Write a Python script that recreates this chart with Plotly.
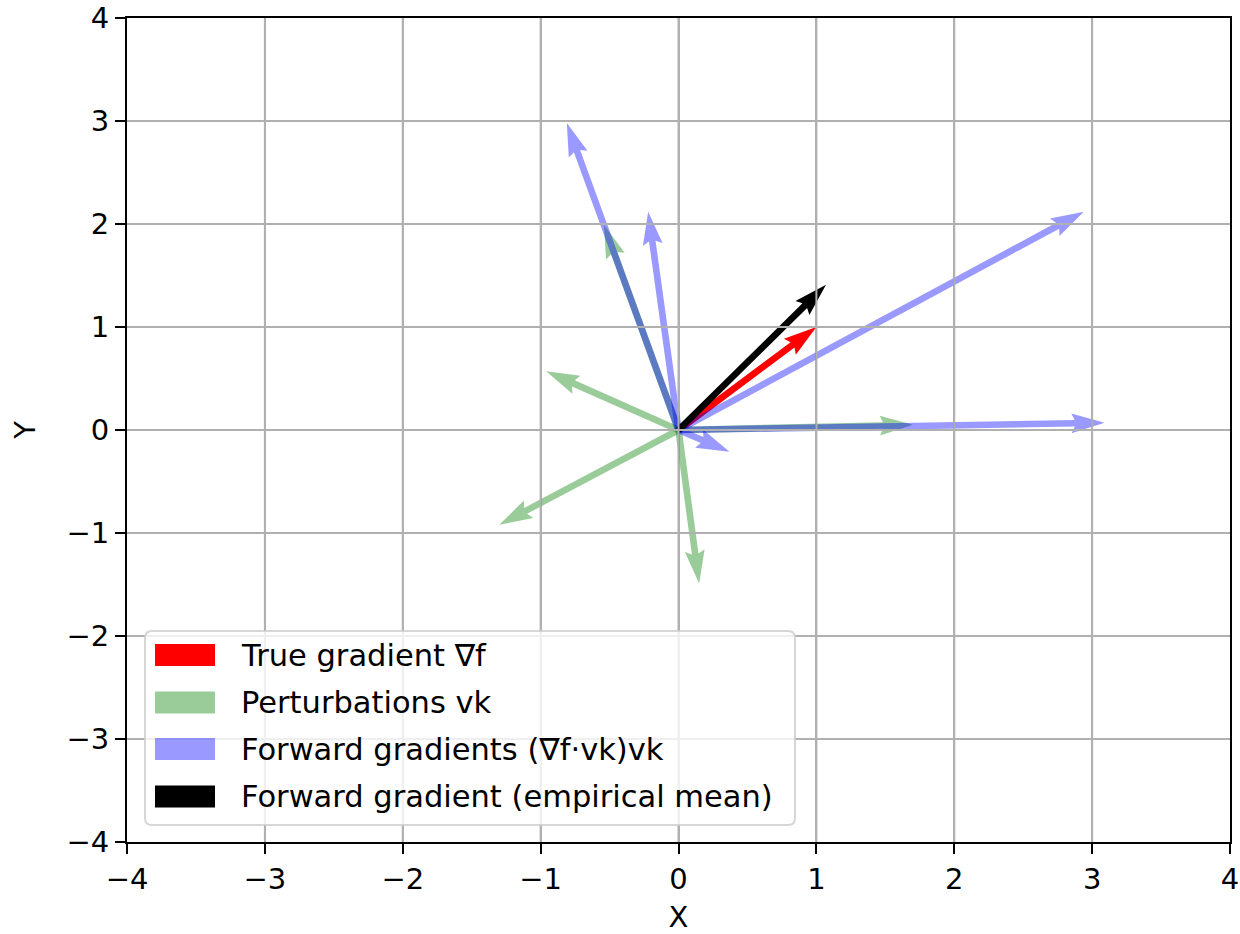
import math
import plotly.graph_objects as go

# ---------------- data ----------------
true_grad_u = [1.0]
true_grad_v = [1.0]

pert_u = [-1.30, -0.96, 0.15, -0.54, 1.70]
pert_v = [-0.92, 0.57, -1.49, 1.99, 0.05]

fwd_u = [2.94, 0.37, -0.22, -0.81, 3.09]
fwd_v = [2.12, -0.21, 2.12, 2.98, 0.07]

mean_u = [1.07]
mean_v = [1.41]

legend_labels = [
    "True gradient ∇f",
    "Perturbations vk",
    "Forward gradients (∇f·vk)vk",
    "Forward gradient (empirical mean)",
]
tick_vals = [-4, -3, -2, -1, 0, 1, 2, 3, 4]
x_label = "X"
y_label = "Y"

# ---------------- styling ----------------
W, H = 1240, 934
ML, MR, MT, MB = 127, 10, 18, 92
PW, PH = W - ML - MR, H - MT - MB
XR = (-4, 4)
YR = (-4, 4)
SX = PW / (XR[1] - XR[0])
SY = PH / (YR[1] - YR[0])
SHAFT = 0.006 * PW  # matplotlib quiver default shaft width (px)
FONT = "DejaVu Sans"

RED = "rgb(255,0,0)"
GREEN = "rgba(0,128,0,0.4)"
BLUE = "rgba(0,0,255,0.4)"
BLACK = "rgb(0,0,0)"


def arrow_poly(u, v):
    """matplotlib-quiver-like arrow polygon, built in pixel space, returned in data units."""
    dx, dy = u * SX, v * SY
    L = math.hypot(dx, dy)
    ex, ey = dx / L, dy / L
    nx, ny = -ey, ex
    w = SHAFT
    hl, hal, hw = 5 * w, 4.5 * w, 3 * w
    if L < hl:
        s = L / hl
        hl, hal, hw, w = hl * s, hal * s, hw * s, w * s
    pts = [(0, w / 2), (L - hal, w / 2), (L - hl, hw / 2), (L, 0),
           (L - hl, -hw / 2), (L - hal, -w / 2), (0, -w / 2), (0, w / 2)]
    xs = [(a * ex + b * nx) / SX for a, b in pts]
    ys = [(a * ey + b * ny) / SY for a, b in pts]
    return xs, ys


fig = go.Figure()


def add_arrows(us, vs, color, name):
    for u, v in zip(us, vs):
        xs, ys = arrow_poly(u, v)
        fig.add_trace(go.Scatter(
            x=xs, y=ys, mode="lines", fill="toself", fillcolor=color,
            line=dict(width=0, color=color), hoverinfo="skip",
            showlegend=False, name=name))


add_arrows(true_grad_u, true_grad_v, RED, legend_labels[0])
add_arrows(pert_u, pert_v, GREEN, legend_labels[1])
add_arrows(fwd_u, fwd_v, BLUE, legend_labels[2])
add_arrows(mean_u, mean_v, BLACK, legend_labels[3])

shapes = []
# grid drawn above the arrows (as matplotlib does for quiver collections)
for t in tick_vals[1:-1]:
    shapes.append(dict(type="line", xref="x", yref="paper", x0=t, x1=t, y0=0, y1=1,
                       line=dict(color="#b0b0b0", width=2), layer="above"))
    shapes.append(dict(type="line", xref="paper", yref="y", x0=0, x1=1, y0=t, y1=t,
                       line=dict(color="#b0b0b0", width=2), layer="above"))


def px2paper(px, py):
    return (px - ML) / PW, (H - MB - py) / PH


# legend frame (rounded)
bx0, by0, bx1, by1, r = 145, 631, 795, 825, 7
def P(px, py):
    x, y = px2paper(px, py)
    return f"{x:.5f},{y:.5f}"
path = (f"M{P(bx0 + r, by0)} L{P(bx1 - r, by0)} Q{P(bx1, by0)} {P(bx1, by0 + r)} "
        f"L{P(bx1, by1 - r)} Q{P(bx1, by1)} {P(bx1 - r, by1)} "
        f"L{P(bx0 + r, by1)} Q{P(bx0, by1)} {P(bx0, by1 - r)} "
        f"L{P(bx0, by0 + r)} Q{P(bx0, by0)} {P(bx0 + r, by0)} Z")
shapes.append(dict(type="path", xref="paper", yref="paper", path=path,
                   fillcolor="rgba(255,255,255,0.8)",
                   line=dict(color="rgba(204,204,204,0.8)", width=2), layer="above"))

annotations = []
legend_colors = [RED, GREEN, BLUE, BLACK]
row_centers = [655, 702.5, 749, 796.5]
for lab, col, cy in zip(legend_labels, legend_colors, row_centers):
    x0, y0 = px2paper(155, cy + 11)
    x1, y1 = px2paper(215, cy - 11)
    shapes.append(dict(type="rect", xref="paper", yref="paper", x0=x0, x1=x1, y0=y0, y1=y1,
                       fillcolor=col, line=dict(width=0), layer="above"))
    tx, ty = px2paper(239, cy)
    annotations.append(dict(xref="paper", yref="paper", x=tx, y=ty, text=lab,
                            showarrow=False, xanchor="left", yanchor="middle",
                            font=dict(family=FONT, size=30.5, color="black")))

axis_common = dict(
    range=list(XR), tickmode="array", tickvals=tick_vals,
    showgrid=True, gridcolor="#b0b0b0", gridwidth=2, zeroline=False,
    showline=True, mirror=True, linecolor="black", linewidth=2,
    ticks="outside", ticklen=10, tickwidth=2, tickcolor="black",
    tickfont=dict(family=FONT, size=29, color="black"),
    fixedrange=True,
)

fig.update_layout(
    width=W, height=H,
    margin=dict(l=ML, r=MR, t=MT, b=MB, autoexpand=False),
    paper_bgcolor="white", plot_bgcolor="white",
    font=dict(family=FONT, size=29, color="black"),
    xaxis=dict(**axis_common, title=dict(text=x_label, standoff=12,
                                         font=dict(family=FONT, size=29))),
    yaxis=dict(**{**axis_common, "range": list(YR)},
               title=dict(text=y_label, standoff=22, font=dict(family=FONT, size=29))),
    shapes=shapes,
    annotations=annotations,
    showlegend=False,
)

fig.write_html("out.html")
